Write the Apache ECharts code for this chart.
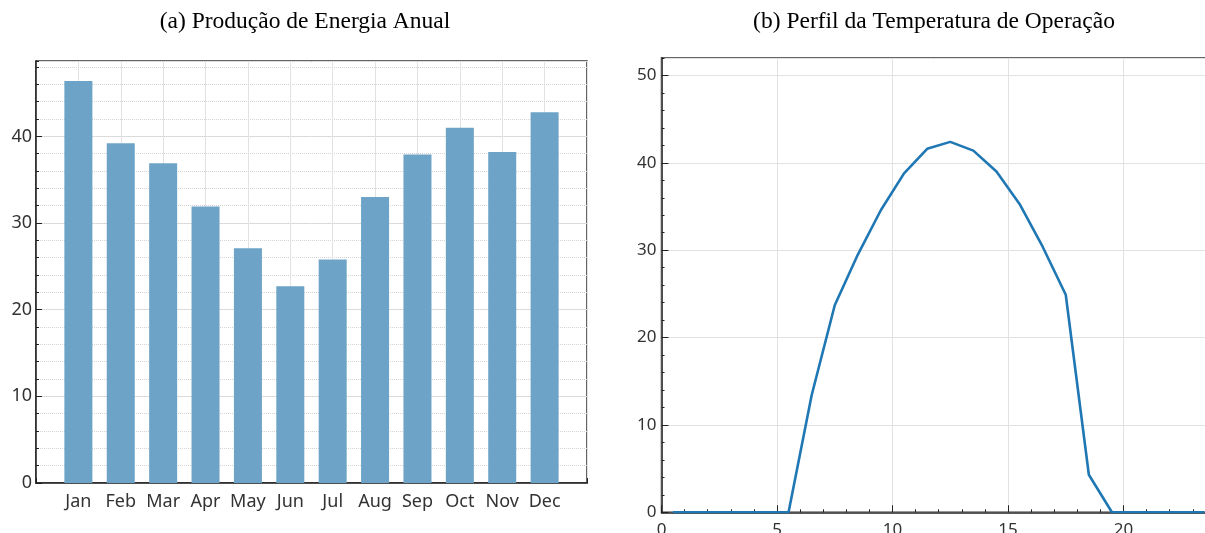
<!DOCTYPE html>
<html>
<head>
<meta charset="utf-8">
<script src="https://cdn.jsdelivr.net/npm/echarts@6/dist/echarts.min.js"></script>
<style>
  html, body { margin: 0; padding: 0; background: #fff; }
  #chart { width: 1205px; height: 533px; }
</style>
</head>
<body>
<div id="chart"></div>
<script>
// Monthly energy production
const months = ['Jan', 'Feb', 'Mar', 'Apr', 'May', 'Jun', 'Jul', 'Aug', 'Sep', 'Oct', 'Nov', 'Dec'];
const energy = [46.4, 39.2, 36.9, 31.9, 27.1, 22.7, 25.8, 33.0, 37.9, 41.0, 38.2, 42.8];

// Operating temperature over the day (half-hour centred samples)
const hours = [0.5, 1.5, 2.5, 3.5, 4.5, 5.5, 6.5, 7.5, 8.5, 9.5, 10.5, 11.5,
               12.5, 13.5, 14.5, 15.5, 16.5, 17.5, 18.5, 19.5, 20.5, 21.5, 22.5, 23.5];
const temperature = [0, 0, 0, 0, 0, 0, 13.4, 23.7, 29.5, 34.6, 38.8, 41.6,
                     42.4, 41.4, 39.0, 35.3, 30.4, 24.9, 4.3, 0, 0, 0, 0, 0];

const titles = ['(a) Produção de Energia Anual', '(b) Perfil da Temperatura de Operação'];

const labelFont = { fontFamily: 'Noto Sans', fontSize: 18, color: '#333' };
const axisBlack = { onZero: false, lineStyle: { color: '#222', width: 1.5 } };
const gridGray = { show: true, lineStyle: { color: '#e2e2e2', width: 1, type: 'solid' } };
const titleFont = { fontFamily: 'Liberation Serif', fontSize: 23.5, fontWeight: 'normal', color: '#000' };

const chart = echarts.init(document.getElementById('chart'), null, { renderer: 'canvas' });

chart.setOption({
  animation: false,
  title: [
    { text: titles[0], left: 300, top: 5, textAlign: 'center', textStyle: titleFont },
    { text: titles[1], left: 929, top: 5, textAlign: 'center', textStyle: titleFont }
  ],
  grid: [
    { left: 36, top: 61, width: 551, height: 422, show: true, borderColor: '#333', borderWidth: 1.5,
      containLabel: false, outerBoundsMode: 'none' },
    { left: 661.5, top: 58, width: 577.5, height: 454.3, show: true, borderColor: '#333', borderWidth: 1.5,
      containLabel: false, outerBoundsMode: 'none' }
  ],
  xAxis: [
    {
      gridIndex: 0, type: 'value', min: -1, max: 12, interval: 1, position: 'bottom',
      axisLine: axisBlack,
      axisTick: { inside: true, length: 5, lineStyle: { color: '#222' } },
      axisLabel: Object.assign({ margin: 10, formatter: v => months[v] || '' }, labelFont),
      splitLine: gridGray
    },
    {
      gridIndex: 1, type: 'value', min: 0, max: 25, interval: 5, position: 'bottom',
      axisLine: axisBlack,
      axisTick: { inside: true, length: 7, lineStyle: { color: '#222' } },
      minorTick: { show: true, splitNumber: 5, length: 3, lineStyle: { color: '#222' } },
      axisLabel: Object.assign({ margin: 9 }, labelFont, { fontSize: 17 }),
      splitLine: gridGray
    }
  ],
  yAxis: [
    // major scale, left chart
    {
      gridIndex: 0, type: 'value', min: 0, max: 48.7, interval: 10, position: 'left',
      axisLine: axisBlack,
      axisTick: { inside: true, length: 6, lineStyle: { color: '#222' } },
      axisLabel: Object.assign({ margin: 4, showMaxLabel: false }, labelFont),
      splitLine: gridGray
    },
    // minor scale, left chart (dotted lines every 2)
    {
      gridIndex: 0, type: 'value', min: 0, max: 48.7, interval: 2, position: 'left', offset: 0,
      axisLine: { show: false, onZero: false },
      axisTick: { inside: true, length: 3, lineStyle: { color: '#222' } },
      axisLabel: { show: false },
      splitLine: { show: true, lineStyle: { color: '#d4d4d4', width: 1, type: [1, 1] } }
    },
    // major scale, right chart
    {
      gridIndex: 1, type: 'value', min: 0, max: 52, interval: 10, position: 'left',
      axisLine: axisBlack,
      axisTick: { inside: true, length: 7, lineStyle: { color: '#222' } },
      axisLabel: Object.assign({ margin: 5, showMaxLabel: false }, labelFont, { fontSize: 17 }),
      splitLine: gridGray
    },
    // minor ticks, right chart
    {
      gridIndex: 1, type: 'value', min: 0, max: 52, interval: 2, position: 'left', offset: 0,
      axisLine: { show: false, onZero: false },
      axisTick: { inside: true, length: 3, lineStyle: { color: '#222' } },
      axisLabel: { show: false },
      splitLine: { show: false }
    }
  ],
  series: [
    {
      type: 'bar', xAxisIndex: 0, yAxisIndex: 0,
      barWidth: 28,
      itemStyle: { color: '#6ca3c6' },
      data: energy.map((v, i) => [i, v]),
      z: 3
    },
    {
      type: 'line', xAxisIndex: 1, yAxisIndex: 2,
      showSymbol: false, symbol: 'none',
      lineStyle: { color: '#1f77b4', width: 2.6 },
      data: hours.map((h, i) => [h, temperature[i]]),
      clip: true,
      z: 3
    }
  ]
});
</script>
</body>
</html>
